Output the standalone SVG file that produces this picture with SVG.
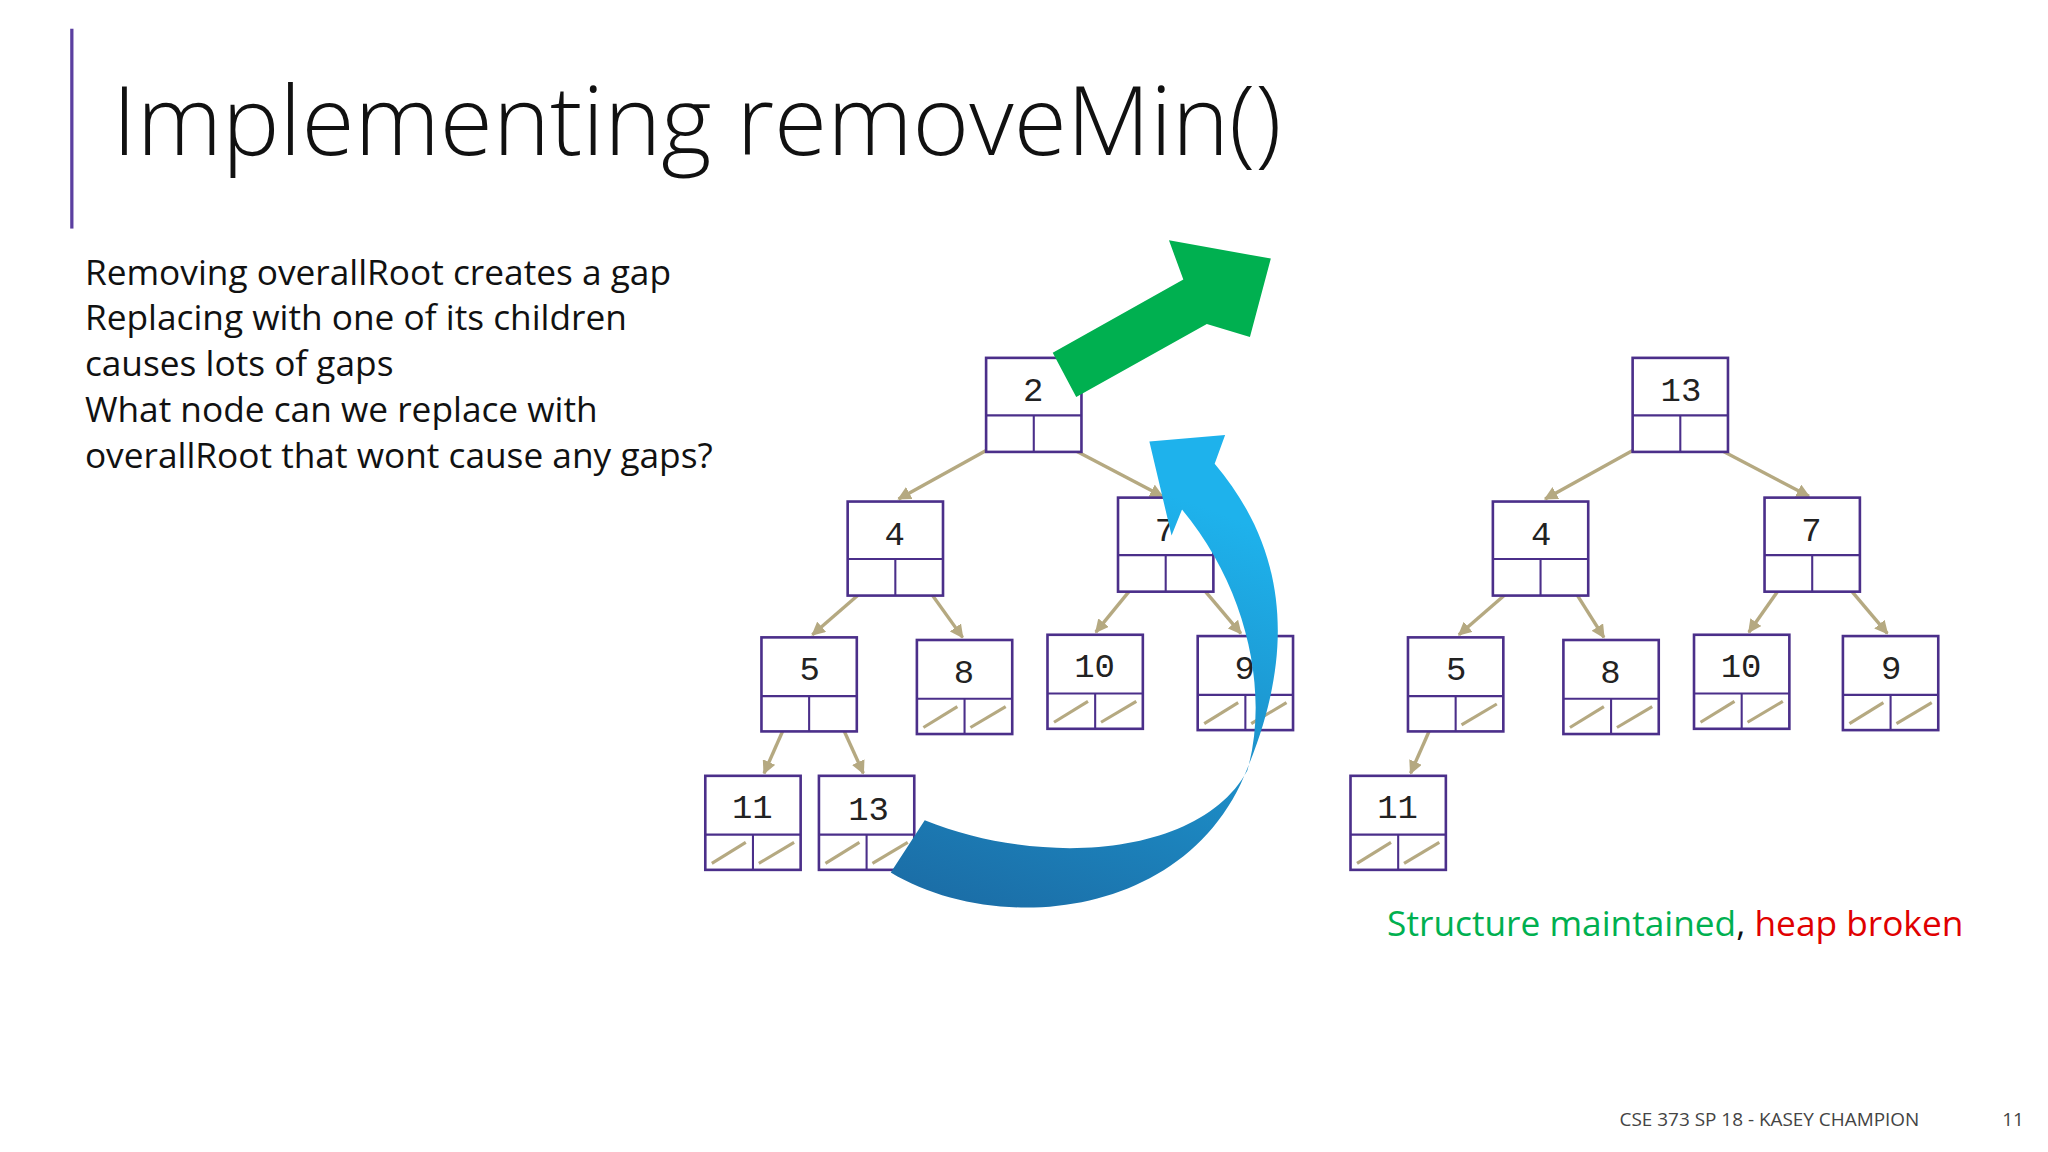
<svg xmlns="http://www.w3.org/2000/svg" width="2048" height="1152" viewBox="0 0 2048 1152">
<defs>
<style>
.box{fill:#fff;stroke:#4b2f8a;stroke-width:2}
.ln{stroke:#4b2f8a;stroke-width:1.6}
.sl{stroke:#b5a981;stroke-width:2.4}
.lbl{font-family:"Liberation Mono",monospace;font-size:26px;fill:#222;text-anchor:middle}
.ed{stroke:#b5a981;stroke-width:2.6;marker-end:url(#ah)}
.body{font-family:"Open Sans","Noto Sans",sans-serif;font-size:27px;fill:#111}
</style>
<marker id="ah" viewBox="0 0 10 10" refX="9" refY="5" markerWidth="4" markerHeight="4" orient="auto" markerUnits="strokeWidth"><path d="M0,0 L10,5 L0,10 z" fill="#b5a981"/></marker>
<linearGradient id="bg" x1="0" y1="1" x2="0.3" y2="0"><stop offset="0" stop-color="#1b6aa3"/><stop offset="1" stop-color="#1eb2ec"/></linearGradient>
</defs>
<rect width="2048" height="1152" fill="#fff"/>
<g transform="scale(1.3061)">
<line x1="55" y1="22" x2="55" y2="175" stroke="#5b3fa0" stroke-width="2.5"/>
<text x="86" y="119" font-family="Open Sans,Noto Sans,sans-serif" font-weight="300" font-size="74" fill="#111">Implementing removeMin()</text>
<g class="body">
<text x="65" y="218">Removing overallRoot creates a gap</text>
<text x="65" y="253">Replacing with one of its children</text>
<text x="65" y="288">causes lots of gaps</text>
<text x="65" y="323">What node can we replace with</text>
<text x="65" y="358">overallRoot that wont cause any gaps?</text>
</g>
<g id="connectors">
<line class="ed" x1="773" y1="335" x2="688" y2="382"/>
<line class="ed" x1="810" y1="338" x2="890" y2="380"/>
<line class="ed" x1="667" y1="447" x2="622" y2="486"/>
<line class="ed" x1="704" y1="442" x2="737" y2="488"/>
<line class="ed" x1="875" y1="440" x2="839" y2="484"/>
<line class="ed" x1="912" y1="440" x2="950" y2="485"/>
<line class="ed" x1="604" y1="549" x2="585" y2="592"/>
<line class="ed" x1="641" y1="548" x2="661" y2="592"/>
<line class="ed" x1="1268" y1="335" x2="1183" y2="382"/>
<line class="ed" x1="1305" y1="338" x2="1385" y2="380"/>
<line class="ed" x1="1162" y1="447" x2="1117" y2="486"/>
<line class="ed" x1="1199" y1="442" x2="1228" y2="488"/>
<line class="ed" x1="1370" y1="440" x2="1339" y2="484"/>
<line class="ed" x1="1407" y1="440" x2="1445" y2="485"/>
<line class="ed" x1="1099" y1="549" x2="1080" y2="592"/>
</g>
<!-- left tree -->
<g id="n2"><rect class="box" x="755" y="274" width="73" height="72"/><line class="ln" x1="755" y1="318" x2="828" y2="318"/><line class="ln" x1="791.5" y1="318" x2="791.5" y2="346"/><text class="lbl" x="791" y="307">2</text></g>
<g id="n4"><rect class="box" x="649" y="384" width="73" height="72"/><line class="ln" x1="649" y1="428" x2="722" y2="428"/><line class="ln" x1="685.5" y1="428" x2="685.5" y2="456"/><text class="lbl" x="685" y="417">4</text></g>
<g id="n7"><rect class="box" x="856" y="381" width="73" height="72"/><line class="ln" x1="856" y1="425" x2="929" y2="425"/><line class="ln" x1="892.5" y1="425" x2="892.5" y2="453"/><text class="lbl" x="892" y="414">7</text></g>
<g id="n5"><rect class="box" x="583" y="488" width="73" height="72"/><line class="ln" x1="583" y1="533" x2="656" y2="533"/><line class="ln" x1="619.5" y1="533" x2="619.5" y2="560"/><text class="lbl" x="620" y="521">5</text></g>
<g id="n8"><rect class="box" x="702" y="490" width="73" height="72"/><line class="ln" x1="702" y1="535" x2="775" y2="535"/><line class="ln" x1="738.5" y1="535" x2="738.5" y2="562"/><line class="sl" x1="707" y1="557" x2="733" y2="541"/><line class="sl" x1="743" y1="557" x2="770" y2="541"/><text class="lbl" x="738" y="523">8</text></g>
<g id="n10"><rect class="box" x="802" y="486" width="73" height="72"/><line class="ln" x1="802" y1="531" x2="875" y2="531"/><line class="ln" x1="838.5" y1="531" x2="838.5" y2="558"/><line class="sl" x1="807" y1="553" x2="833" y2="537"/><line class="sl" x1="843" y1="553" x2="870" y2="537"/><text class="lbl" x="838" y="518">10</text></g>
<g id="n9"><rect class="box" x="917" y="487" width="73" height="72"/><line class="ln" x1="917" y1="532" x2="990" y2="532"/><line class="ln" x1="953.5" y1="532" x2="953.5" y2="559"/><line class="sl" x1="922" y1="554" x2="948" y2="538"/><line class="sl" x1="958" y1="554" x2="985" y2="538"/><text class="lbl" x="953" y="520">9</text></g>
<g id="n11"><rect class="box" x="540" y="594" width="73" height="72"/><line class="ln" x1="540" y1="639" x2="613" y2="639"/><line class="ln" x1="576.5" y1="639" x2="576.5" y2="666"/><line class="sl" x1="545" y1="661" x2="571" y2="645"/><line class="sl" x1="581" y1="661" x2="608" y2="645"/><text class="lbl" x="576" y="626">11</text></g>
<g id="n13"><rect class="box" x="627" y="594" width="73" height="72"/><line class="ln" x1="627" y1="639" x2="700" y2="639"/><line class="ln" x1="663.5" y1="639" x2="663.5" y2="666"/><line class="sl" x1="632" y1="661" x2="658" y2="645"/><line class="sl" x1="668" y1="661" x2="695" y2="645"/><text class="lbl" x="665" y="628">13</text></g>
<!-- right tree -->
<g id="m13"><rect class="box" x="1250" y="274" width="73" height="72"/><line class="ln" x1="1250" y1="318" x2="1323" y2="318"/><line class="ln" x1="1286.5" y1="318" x2="1286.5" y2="346"/><text class="lbl" x="1287" y="307">13</text></g>
<g id="m4"><rect class="box" x="1143" y="384" width="73" height="72"/><line class="ln" x1="1143" y1="428" x2="1216" y2="428"/><line class="ln" x1="1179.5" y1="428" x2="1179.5" y2="456"/><text class="lbl" x="1180" y="417">4</text></g>
<g id="m7"><rect class="box" x="1351" y="381" width="73" height="72"/><line class="ln" x1="1351" y1="425" x2="1424" y2="425"/><line class="ln" x1="1387.5" y1="425" x2="1387.5" y2="453"/><text class="lbl" x="1387" y="414">7</text></g>
<g id="m5"><rect class="box" x="1078" y="488" width="73" height="72"/><line class="ln" x1="1078" y1="533" x2="1151" y2="533"/><line class="ln" x1="1114.5" y1="533" x2="1114.5" y2="560"/><line class="sl" x1="1119" y1="555" x2="1146" y2="539"/><text class="lbl" x="1115" y="521">5</text></g>
<g id="m8"><rect class="box" x="1197" y="490" width="73" height="72"/><line class="ln" x1="1197" y1="535" x2="1270" y2="535"/><line class="ln" x1="1233.5" y1="535" x2="1233.5" y2="562"/><line class="sl" x1="1202" y1="557" x2="1228" y2="541"/><line class="sl" x1="1238" y1="557" x2="1265" y2="541"/><text class="lbl" x="1233" y="523">8</text></g>
<g id="m10"><rect class="box" x="1297" y="486" width="73" height="72"/><line class="ln" x1="1297" y1="531" x2="1370" y2="531"/><line class="ln" x1="1333.5" y1="531" x2="1333.5" y2="558"/><line class="sl" x1="1302" y1="553" x2="1328" y2="537"/><line class="sl" x1="1338" y1="553" x2="1365" y2="537"/><text class="lbl" x="1333" y="518">10</text></g>
<g id="m9"><rect class="box" x="1411" y="487" width="73" height="72"/><line class="ln" x1="1411" y1="532" x2="1484" y2="532"/><line class="ln" x1="1447.5" y1="532" x2="1447.5" y2="559"/><line class="sl" x1="1416" y1="554" x2="1442" y2="538"/><line class="sl" x1="1452" y1="554" x2="1479" y2="538"/><text class="lbl" x="1448" y="520">9</text></g>
<g id="m11"><rect class="box" x="1034" y="594" width="73" height="72"/><line class="ln" x1="1034" y1="639" x2="1107" y2="639"/><line class="ln" x1="1070.5" y1="639" x2="1070.5" y2="666"/><line class="sl" x1="1039" y1="661" x2="1065" y2="645"/><line class="sl" x1="1075" y1="661" x2="1102" y2="645"/><text class="lbl" x="1070" y="626">11</text></g>
<!-- arrows -->
<polygon points="806,270 906,214 895,184 973,198 957,258 924,248 824,304" fill="#00b050"/>
<path d="M682,668 C760,715 900,705 950,600 C995,500 985,420 930,355 L938,333 L880,338 L897,410 L905,390 C955,450 972,530 955,590 C920,655 800,665 708,628 Z" fill="url(#bg)"/>
<text x="1062" y="717" font-family="Open Sans,Noto Sans,sans-serif" font-size="27"><tspan fill="#00b050">Structure maintained</tspan><tspan fill="#111">, </tspan><tspan fill="#e00000">heap broken</tspan></text>
<text x="1240" y="862" font-family="Open Sans,Noto Sans,sans-serif" font-size="14.5" fill="#444">CSE 373 SP 18 - KASEY CHAMPION</text>
<text x="1533" y="862" font-family="Open Sans,Noto Sans,sans-serif" font-size="14.5" fill="#444">11</text>
</g>
</svg>
